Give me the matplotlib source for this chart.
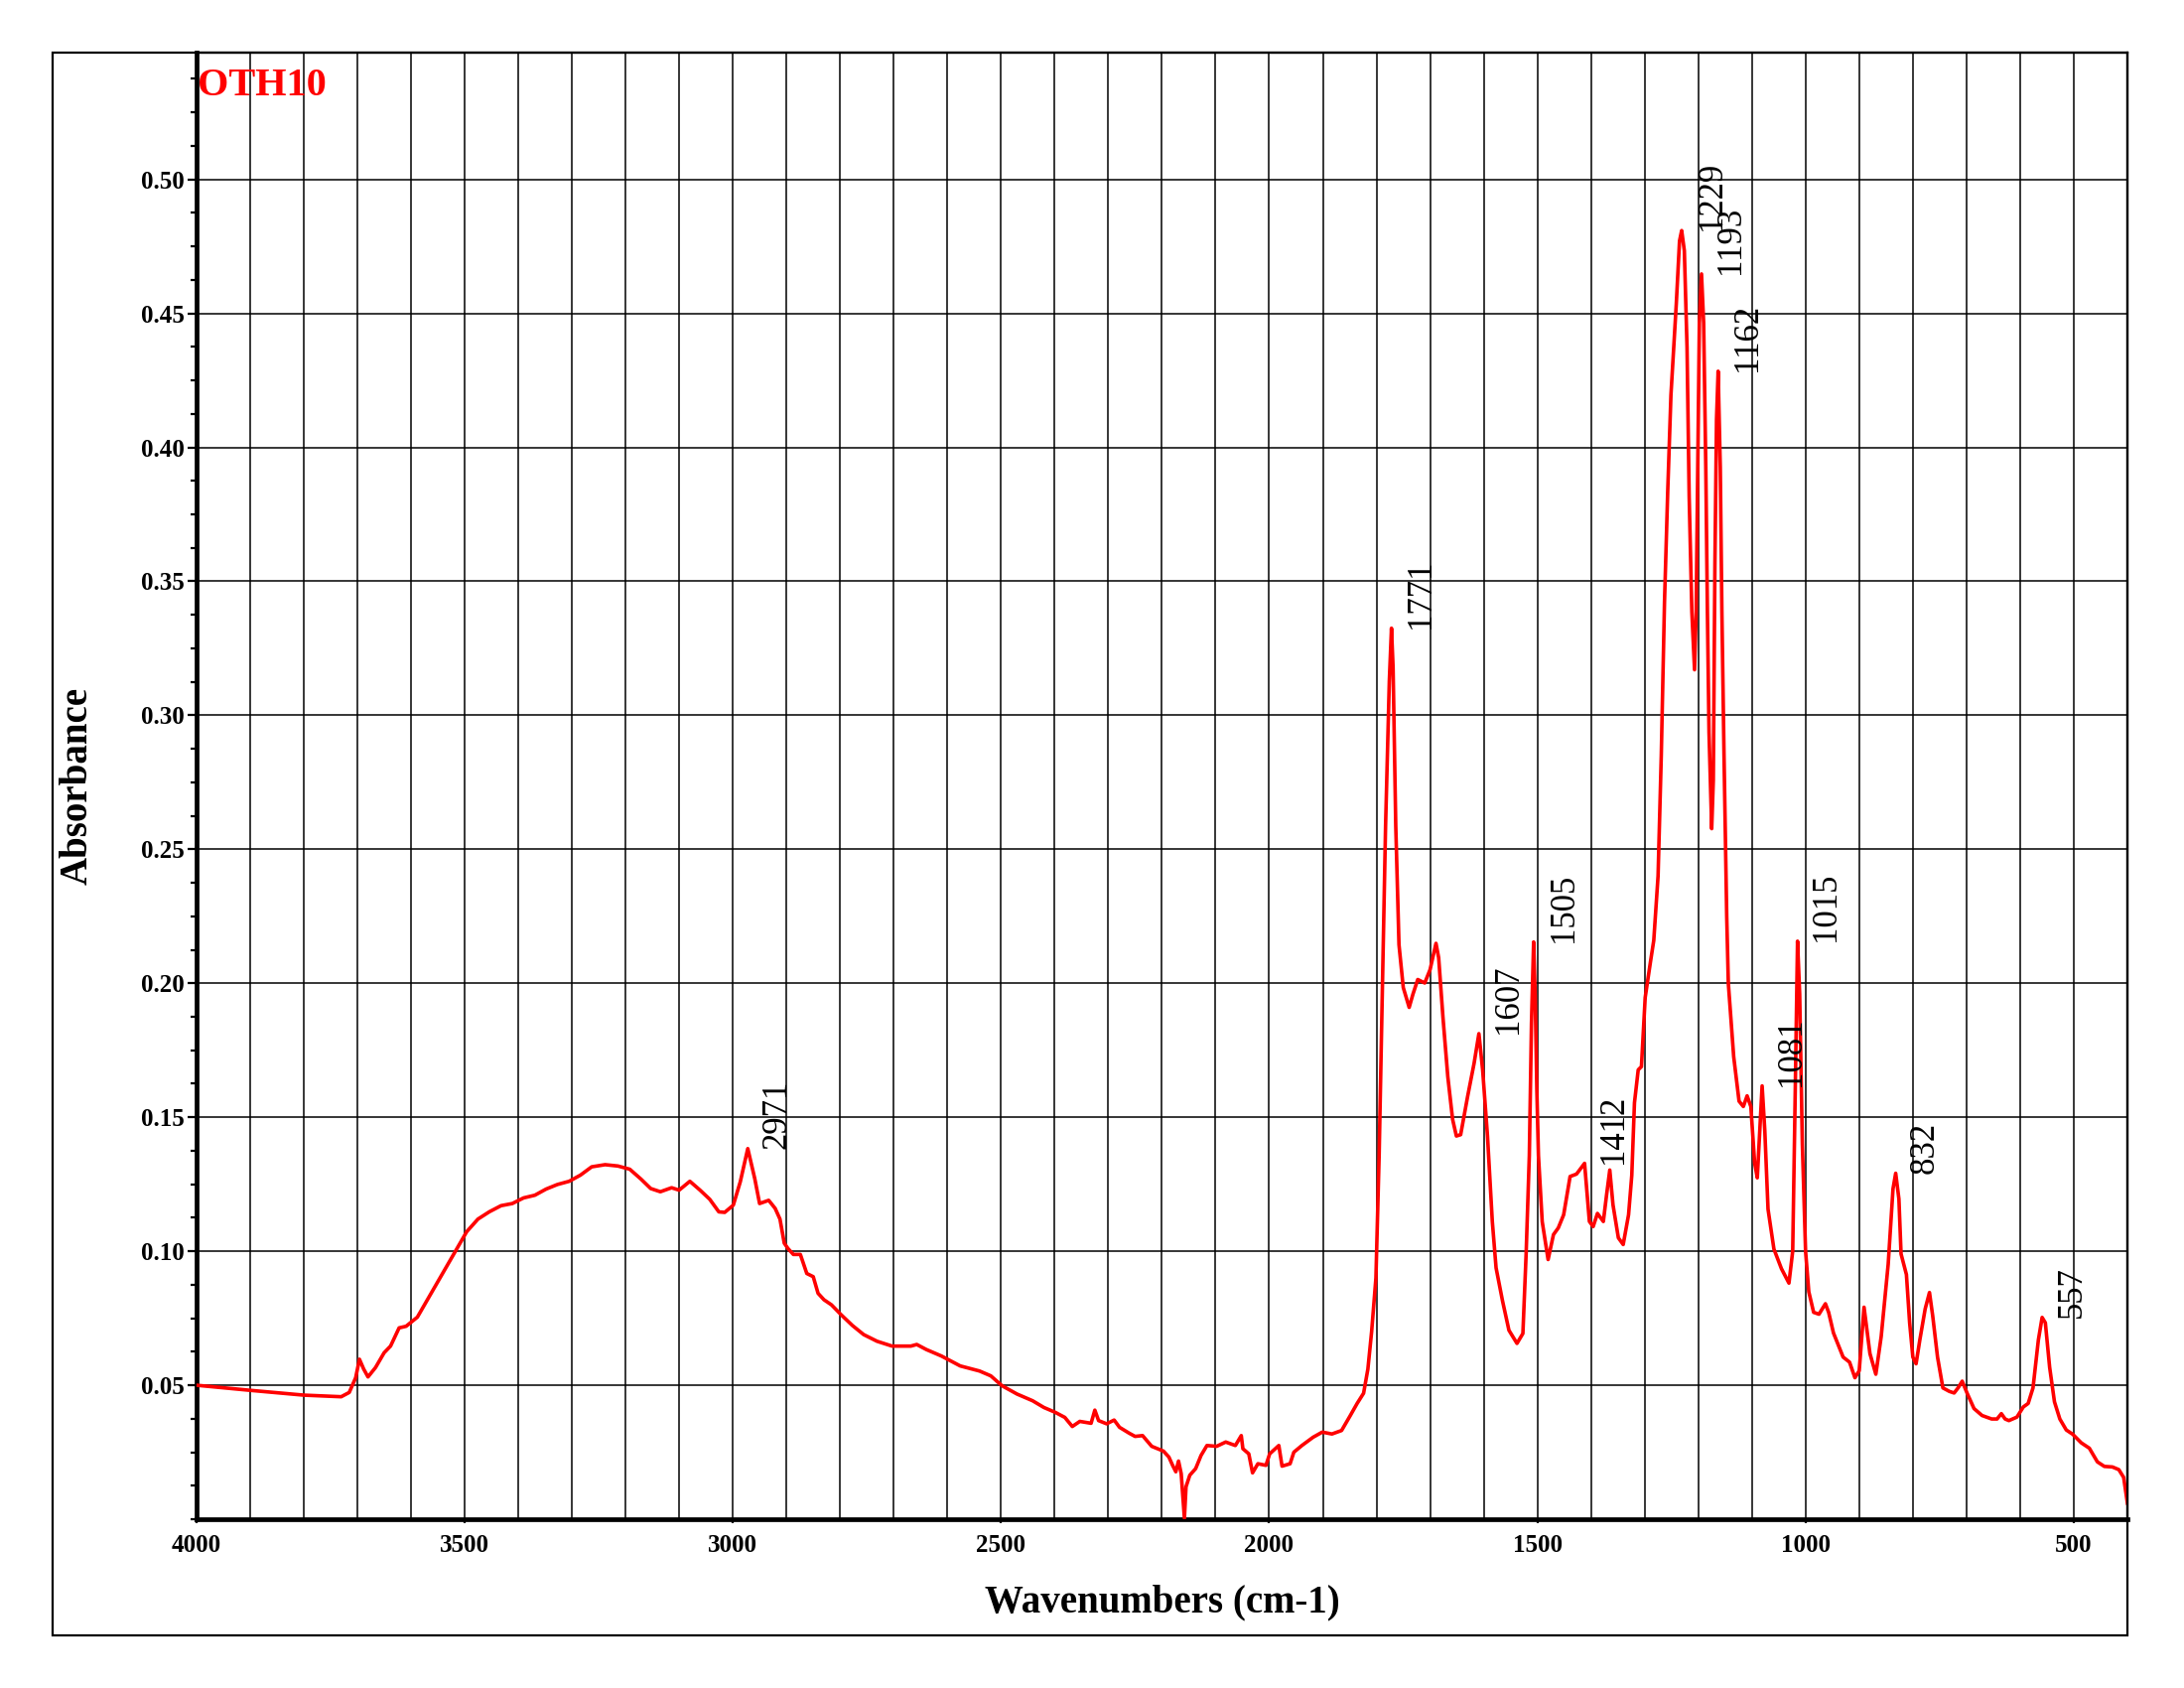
import numpy as np
import matplotlib.pyplot as plt
from matplotlib.patches import Rectangle
from matplotlib.ticker  import MultipleLocator, FormatStrFormatter

plt.rcParams['font.family'] = ['Liberation Serif', 'DejaVu Serif']

# Spectrum (wavenumber in cm-1, absorbance)
wavenumber = np.array([
    4000, 3900, 3800, 3730, 3715, 3703, 3696, 3688, 3680, 3666, 3650, 3638, 3622, 3609,
    3588, 3571, 3546, 3517, 3496, 3475, 3454, 3432, 3411, 3390, 3369, 3348, 3327, 3305,
    3284, 3263, 3238, 3214, 3192, 3171, 3153, 3135, 3114, 3100, 3080, 3061, 3043, 3026,
    3015, 2999, 2986, 2972, 2959, 2950, 2933, 2921, 2912, 2904, 2897, 2887, 2874, 2862,
    2850, 2841, 2830, 2816, 2798, 2777, 2756, 2731, 2703, 2668, 2657, 2639, 2611, 2576,
    2540, 2519, 2498, 2470, 2441, 2420, 2399, 2381, 2367, 2353, 2332, 2325, 2318, 2303,
    2289, 2279, 2261, 2250, 2236, 2219, 2197, 2187, 2180, 2174, 2169, 2164, 2158, 2155,
    2148, 2137, 2127, 2116, 2098, 2081, 2063, 2052, 2049, 2038, 2031, 2021, 2006, 1999,
    1982, 1976, 1961, 1954, 1939, 1918, 1901, 1883, 1865, 1849, 1836, 1824, 1816, 1809,
    1801, 1795, 1789, 1783, 1776, 1772, 1769, 1764, 1758, 1750, 1739, 1732, 1723, 1710,
    1700, 1689, 1684, 1676, 1667, 1658, 1651, 1643, 1630, 1618, 1609, 1602, 1593, 1584,
    1577, 1565, 1553, 1538, 1527, 1521, 1515, 1511, 1507, 1504, 1501, 1498, 1491, 1480,
    1470, 1461, 1451, 1439, 1427, 1412, 1403, 1396, 1388, 1377, 1371, 1365, 1359, 1349,
    1340, 1330, 1324, 1319, 1312, 1306, 1299, 1289, 1283, 1275, 1269, 1263, 1257, 1251,
    1241, 1235, 1231, 1226, 1221, 1217, 1212, 1207, 1204, 1201, 1198, 1194, 1190, 1186,
    1183, 1180, 1175, 1172, 1169, 1166, 1163, 1159, 1156, 1152, 1147, 1144, 1134, 1124,
    1116, 1109, 1102, 1095, 1090, 1085, 1081, 1076, 1070, 1059, 1045, 1031, 1024, 1020,
    1015, 1011, 1006, 1000,  994,  985,  975,  963,  957,  948,  930,  918,  908,  900,
     891,  880,  869,  859,  846,  837,  832,  826,  822,  812,  806,  800,  794,  787,
     777,  769,  763,  754,  744,  732,  723,  715,  708,  699,  686,  671,  653,  643,
     635,  628,  621,  606,  594,  585,  576,  566,  559,  553,  545,  536,  526,  514,
     502,  486,  471,  456,  443,  428,  416,  407,  400])

absorbance = np.array([
    0.0500, 0.0481, 0.0463, 0.0457, 0.0473, 0.0528, 0.0597, 0.0560, 0.0531, 0.0566, 0.0621, 0.0646, 0.0714, 0.0720,
    0.0754, 0.0813, 0.0900, 0.1001, 0.1073, 0.1120, 0.1147, 0.1170, 0.1178, 0.1199, 0.1209, 0.1232, 0.1249, 0.1261,
    0.1284, 0.1315, 0.1323, 0.1318, 0.1306, 0.1269, 0.1234, 0.1222, 0.1237, 0.1228, 0.1261, 0.1228, 0.1194, 0.1147,
    0.1145, 0.1172, 0.1259, 0.1383, 0.1271, 0.1178, 0.1190, 0.1160, 0.1120, 0.1030, 0.1010, 0.0988, 0.0988, 0.0917,
    0.0905, 0.0843, 0.0819, 0.0800, 0.0763, 0.0723, 0.0689, 0.0664, 0.0646, 0.0646, 0.0652, 0.0633, 0.0609, 0.0572,
    0.0553, 0.0535, 0.0498, 0.0467, 0.0442, 0.0417, 0.0399, 0.0380, 0.0346, 0.0365, 0.0358, 0.0407, 0.0368, 0.0356,
    0.0370, 0.0343, 0.0321, 0.0309, 0.0312, 0.0272, 0.0254, 0.0232, 0.0201, 0.0177, 0.0217, 0.0170, 0.0004, 0.0121,
    0.0164, 0.0189, 0.0238, 0.0275, 0.0272, 0.0288, 0.0275, 0.0312, 0.0263, 0.0244, 0.0173, 0.0207, 0.0201, 0.0244,
    0.0275, 0.0198, 0.0207, 0.0250, 0.0275, 0.0306, 0.0325, 0.0318, 0.0331, 0.0386, 0.0432, 0.0470, 0.0560, 0.0700,
    0.0900, 0.1357, 0.1972, 0.2587, 0.3128, 0.3325, 0.3178, 0.2587, 0.2144, 0.1984, 0.1910, 0.1959, 0.2014, 0.2001,
    0.2051, 0.2149, 0.2095, 0.1873, 0.1652, 0.1492, 0.1430, 0.1435, 0.1578, 0.1701, 0.1812, 0.1676, 0.1430, 0.1111,
    0.0938, 0.0815, 0.0705, 0.0656, 0.0693, 0.0988, 0.1357, 0.1849, 0.2154, 0.1947, 0.1603, 0.1357, 0.1111, 0.0969,
    0.1062, 0.1087, 0.1136, 0.1279, 0.1288, 0.1328, 0.1111, 0.1092, 0.1141, 0.1111, 0.1210, 0.1303, 0.1173, 0.1050,
    0.1025, 0.1136, 0.1283, 0.1554, 0.1677, 0.1689, 0.1947, 0.2082, 0.2160, 0.2400, 0.2850, 0.3422, 0.3835, 0.4195,
    0.4536, 0.4770, 0.4809, 0.4734, 0.4374, 0.3817, 0.3386, 0.3170, 0.3386, 0.3925, 0.4464, 0.4647, 0.4464, 0.3925,
    0.3386, 0.2937, 0.2577, 0.2757, 0.3566, 0.4105, 0.4284, 0.3925, 0.3386, 0.2847, 0.2250, 0.2000, 0.1726, 0.1560,
    0.1540, 0.1580, 0.1540, 0.1330, 0.1274, 0.1466, 0.1617, 0.1450, 0.1157, 0.1008, 0.0935, 0.0881, 0.1000, 0.1500,
    0.2157, 0.1960, 0.1400, 0.1000, 0.0849, 0.0772, 0.0765, 0.0804, 0.0772, 0.0695, 0.0605, 0.0586, 0.0528, 0.0554,
    0.0791, 0.0618, 0.0541, 0.0682, 0.0951, 0.1233, 0.1291, 0.1195, 0.0990, 0.0913, 0.0733, 0.0605, 0.0580, 0.0669,
    0.0785, 0.0846, 0.0759, 0.0605, 0.0490, 0.0477, 0.0471, 0.0492, 0.0515, 0.0471, 0.0413, 0.0387, 0.0374, 0.0374,
    0.0394, 0.0374, 0.0368, 0.0381, 0.0419, 0.0432, 0.0490, 0.0669, 0.0753, 0.0733, 0.0567, 0.0438, 0.0374, 0.0333,
    0.0317, 0.0285, 0.0265, 0.0214, 0.0197, 0.0195, 0.0185, 0.0156, 0.0060])

peak_labels = [2971, 1771, 1607, 1505, 1412, 1229, 1193, 1162, 1081, 1015, 832, 557]
y_ticks     = [0.05, 0.10, 0.15, 0.20, 0.25, 0.30, 0.35, 0.40, 0.45, 0.50]
x_ticks     = [4000, 3500, 3000, 2500, 2000, 1500, 1000, 500]

W, H = 2200, 1700
fig = plt.figure(figsize=(11, 8.5), dpi=200)

# Axes box in pixels of the reference
left, right, top, bottom = 197.8, 2143, 53, 1530
ax = fig.add_axes([left / W, 1 - bottom / H, (right - left) / W, (bottom - top) / H])

# Outer frame
fig.patches.append(Rectangle((53 / W, 1 - 1647 / H), (2143 - 53) / W, (1647 - 53) / H,
                             transform=fig.transFigure, fill=False, lw=0.8, ec='black'))

ax.plot(wavenumber, absorbance, color='#ff0000', lw=1.3, zorder=3)

ax.set_xlim(4000, 400)
ax.set_ylim(0.0, 0.5473)

ax.set_xticks(x_ticks)
ax.xaxis.set_minor_locator(MultipleLocator(100))
ax.set_yticks(y_ticks)
ax.yaxis.set_minor_locator(MultipleLocator(0.0125))
ax.yaxis.set_major_formatter(FormatStrFormatter('%.2f'))

ax.set_axisbelow(True)
ax.grid(which='both', axis='x', color='black', lw=0.55)
ax.grid(which='major', axis='y', color='black', lw=0.55)

for side in ['left', 'bottom']:
    ax.spines[side].set_linewidth(1.7)
for side in ['top', 'right']:
    ax.spines[side].set_linewidth(0.8)

ax.tick_params(axis='y', which='major', direction='out', length=3.2, width=0.8, pad=1, labelsize=9)
ax.tick_params(axis='y', which='minor', direction='out', length=2.2, width=0.8)
ax.tick_params(axis='x', which='major', direction='out', length=1.5, width=0.8, pad=4, labelsize=9)
ax.tick_params(axis='x', which='minor', length=0)
for lab in ax.get_xticklabels() + ax.get_yticklabels():
    lab.set_fontweight('bold')

ax.set_xlabel('Wavenumbers (cm-1)', fontsize=14, fontweight='bold', va='top')
ax.xaxis.set_label_coords(0.5, -0.044)
ax.set_ylabel('Absorbance', fontsize=14, fontweight='bold')
ax.yaxis.set_label_coords(-0.052, 0.5)

# Peak labels, placed right of each peak at the peak height
for peak in peak_labels:
    window = np.abs(wavenumber - peak) <= 5
    y_peak = absorbance[window].max()
    ax.annotate(str(peak), xy=(peak, y_peak), xytext=(10.5, 0), textcoords='offset points',
                rotation=90, ha='center', va='bottom', fontsize=12.5, zorder=4)

fig.text(199 / W, 1 - 96 / H, 'OTH10', color='#ff0000', fontsize=14.5, fontweight='bold',
         ha='left', va='baseline')

plt.savefig('out.png', dpi=200)
